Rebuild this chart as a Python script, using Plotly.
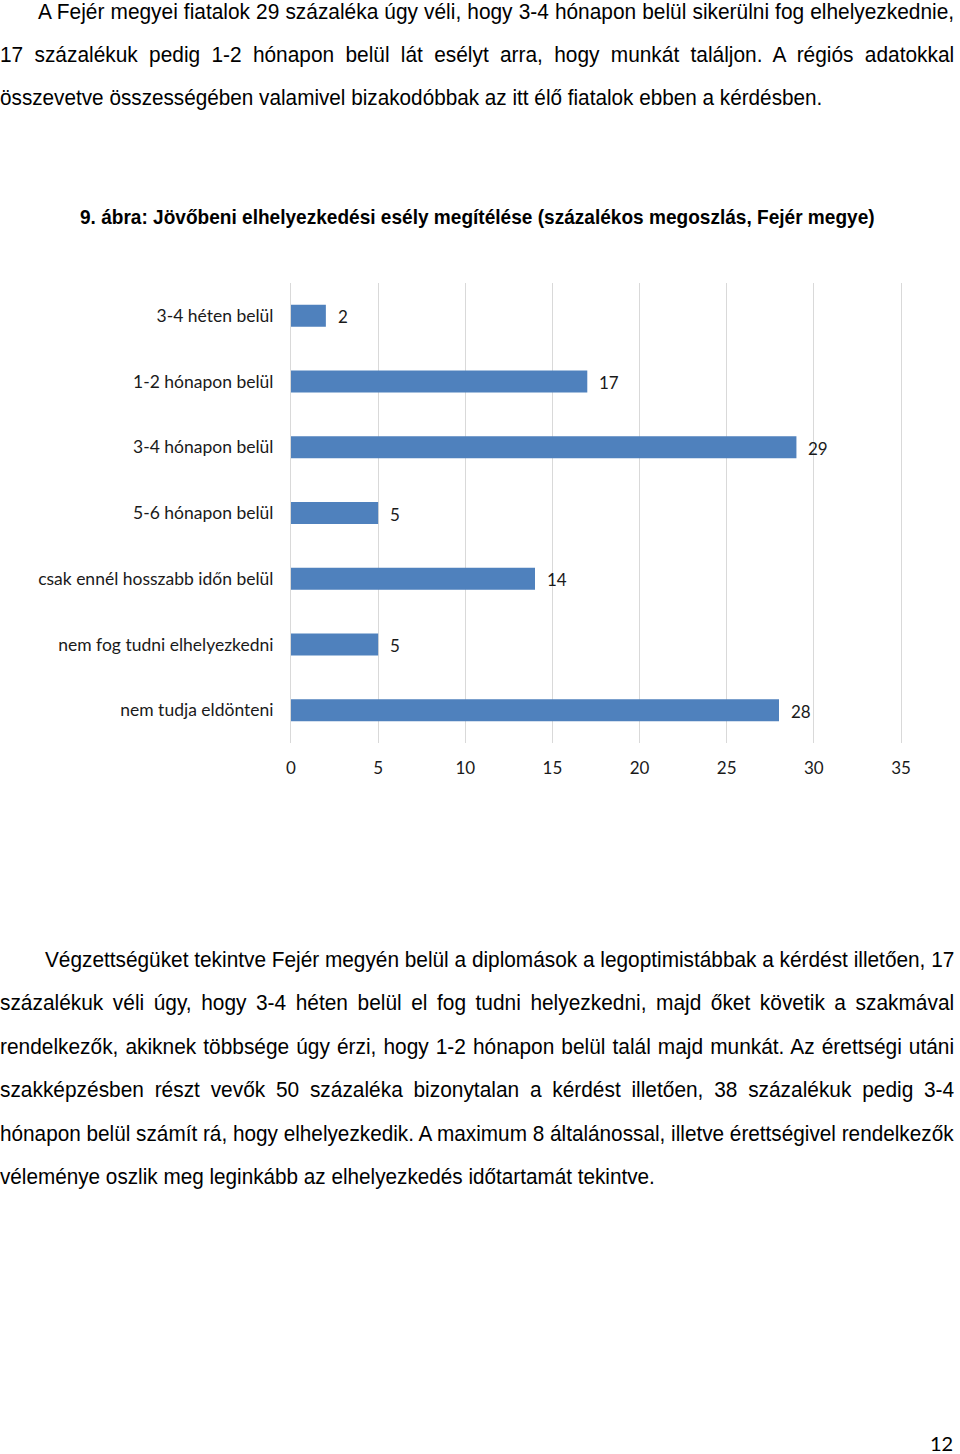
import plotly.graph_objects as go

# ---- data ----
categories = ["3-4 héten belül", "1-2 hónapon belül", "3-4 hónapon belül", "5-6 hónapon belül",
              "csak ennél hosszabb időn belül", "nem fog tudni elhelyezkedni", "nem tudja eldönteni"]
values = [2, 17, 29, 5, 14, 5, 28]
x_ticks = [0, 5, 10, 15, 20, 25, 30, 35]

title_text = "9. ábra: Jövőbeni elhelyezkedési esély megítélése (százalékos megoszlás, Fejér megye)"
para1 = [
    "A Fejér megyei fiatalok 29 százaléka úgy véli, hogy 3-4 hónapon belül sikerülni fog elhelyezkednie,",
    "17 százalékuk pedig 1-2 hónapon belül lát esélyt arra, hogy munkát találjon. A régiós adatokkal",
    "összevetve összességében valamivel bizakodóbbak az itt élő fiatalok ebben a kérdésben.",
]
para2 = [
    "Végzettségüket tekintve Fejér megyén belül a diplomások a legoptimistábbak a kérdést illetően, 17",
    "százalékuk véli úgy, hogy 3-4 héten belül el fog tudni helyezkedni, majd őket követik a szakmával",
    "rendelkezők, akiknek többsége úgy érzi, hogy 1-2 hónapon belül talál majd munkát. Az érettségi utáni",
    "szakképzésben részt vevők 50 százaléka bizonytalan a kérdést illetően, 38 százalékuk pedig 3-4",
    "hónapon belül számít rá, hogy elhelyezkedik. A maximum 8 általánossal, illetve érettségivel rendelkezők",
    "véleménye oszlik meg leginkább az elhelyezkedés időtartamát tekintve.",
]
page_number = "12"

W, H = 960, 1454
BODY_FONT = "Liberation Sans, Arial"
CHART_FONT = "Lato, Carlito, Calibri, Open Sans"
BAR_COLOR = "#4F81BD"
GRID = "#D9D9D9"
LABEL_COLOR = "#1a1a1a"

plot_left, plot_top, plot_bottom = 291, 283, 743
px_per_unit = (901 - 291) / 35.0
x_max = 35.15
plot_right = plot_left + x_max * px_per_unit

fig = go.Figure()
fig.add_trace(go.Bar(
    x=values, y=categories, orientation="h",
    marker=dict(color=BAR_COLOR, line=dict(width=0)),
    hoverinfo="skip",
))

annotations = []
# data labels
for c, v in zip(categories, values):
    annotations.append(dict(x=v, y=c, xref="x", yref="y", text=str(v), showarrow=False,
                            xanchor="left", yanchor="middle", xshift=10, yshift=-1,
                            font=dict(family=CHART_FONT, size=17, color=LABEL_COLOR)))

specs = []  # (annotation index, left px, right px, mode)


def add_line(text, left, right, y_px, size, mode, bold=False):
    if bold:
        text = "<b>" + text + "</b>"
    idx = len(annotations)
    annotations.append(dict(x=left / W, y=1 - y_px / H, xref="paper", yref="paper", text=text,
                            showarrow=False, xanchor="left", yanchor="middle", align="left",
                            font=dict(family=BODY_FONT, size=size, color="#000000")))
    specs.append((idx, left, right, mode))


p1_y = [12, 54, 97]
p1_x = [38, 0, 0]
p1_r = [955, 955, 823]
for i, line in enumerate(para1):
    add_line(line, p1_x[i], p1_r[i], p1_y[i], 22, "j" if i < len(para1) - 1 else "f")

add_line(title_text, 80, 875, 217, 20, "f", bold=True)

p2_y = [959, 1002, 1046, 1089, 1133, 1176]
p2_x = [45, 0, 0, 0, 0, 0]
p2_r = [955, 955, 955, 955, 955, 655]
for i, line in enumerate(para2):
    add_line(line, p2_x[i], p2_r[i], p2_y[i], 22, "j" if i < len(para2) - 1 else "f")

annotations.append(dict(x=954 / W, y=1 - 1443 / H, xref="paper", yref="paper", text=page_number,
                        showarrow=False, xanchor="right", yanchor="middle", borderpad=0,
                        font=dict(family=CHART_FONT, size=20, color="#000000")))

fig.update_layout(
    width=W, height=H,
    margin=dict(l=0, r=0, t=0, b=0, autoexpand=False),
    paper_bgcolor="white", plot_bgcolor="white",
    showlegend=False,
    bargap=0.665,
    annotations=annotations,
    xaxis=dict(domain=[plot_left / W, plot_right / W], range=[0, x_max], tickvals=x_ticks,
               showgrid=True, gridcolor=GRID, gridwidth=1, zeroline=False, showline=False,
               ticks="", ticklabelstandoff=13, automargin=False,
               tickfont=dict(family=CHART_FONT, size=17, color=LABEL_COLOR)),
    yaxis=dict(domain=[1 - plot_bottom / H, 1 - plot_top / H], autorange="reversed",
               type="category", showgrid=False, zeroline=False, automargin=False,
               showline=True, linecolor=GRID, linewidth=1, ticks="", ticklabelstandoff=13,
               tickfont=dict(family=CHART_FONT, size=17.5, color=LABEL_COLOR)),
)

js_specs = ",".join("[%d,%d,%d,'%s']" % s for s in specs)
post_script = """
document.documentElement.style.margin = '0';
document.body.style.margin = '0';
document.documentElement.style.overflow = 'hidden';
document.body.style.overflow = 'hidden';
var gd = document.getElementById('{plot_id}');
var specs = [%s];
var S0 = 0.95;
specs.forEach(function(sp){
  var t = gd.querySelector('.annotation[data-index="' + sp[0] + '"] text.annotation-text');
  if(!t) return;
  var x0 = parseFloat(t.getAttribute('x')) || 0;
  t.removeAttribute('transform');
  t.style.wordSpacing = '0px';
  var r = t.getBoundingClientRect();
  var w = r.width, target = sp[2] - sp[1];
  var n = (t.textContent.match(/ /g) || []).length;
  var s, ws = 0;
  if(sp[3] === 'f'){ s = target / w; }
  else {
    s = S0;
    var extra = target - w * s;
    if(extra < 0 || n === 0){ s = target / w; } else { ws = extra / (n * s); }
  }
  t.style.wordSpacing = ws + 'px';
  t.setAttribute('transform', 'translate(' + (x0 * (1 - s)) + ',0) scale(' + s + ',1)');
  var r2 = t.getBoundingClientRect();
  var dx = sp[1] - r2.left;
  t.setAttribute('transform', 'translate(' + (x0 * (1 - s) + dx) + ',0) scale(' + s + ',1)');
});
""" % js_specs

fig.write_html("out.html", post_script=post_script)
